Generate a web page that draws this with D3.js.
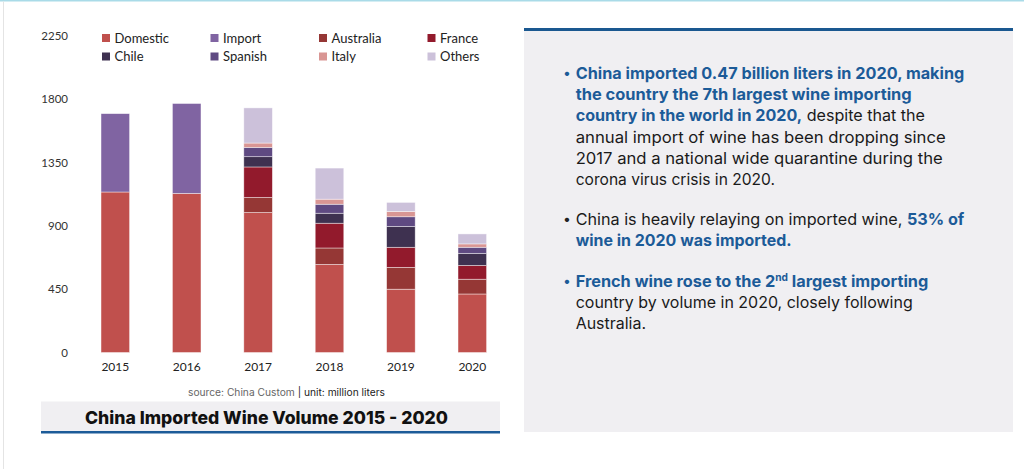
<!DOCTYPE html>
<html>
<head>
<meta charset="utf-8">
<script src="https://cdn.jsdelivr.net/npm/d3@7"></script>
<style>
  body { margin: 0; background: #fff; }
  svg { display: block; }
</style>
</head>
<body>
<script>
// Data (million liters)
const years = ['2015', '2016', '2017', '2018', '2019', '2020'];
const domestic = [1141, 1131, 995, 626, 450, 416];
const imported = [557, 639, 0, 0, 0, 0];
const australia = [0, 0, 107, 117, 155, 105];
const france = [0, 0, 217, 176, 143, 98];
const chile = [0, 0, 73, 71, 148, 86];
const spanish = [0, 0, 66, 64, 69, 43];
const italy = [0, 0, 31, 36, 38, 24];
const others = [0, 0, 250, 221, 64, 71];

const seriesNames = ['Domestic', 'Import', 'Australia', 'France', 'Chile', 'Spanish', 'Italy', 'Others'];
const seriesValues = [domestic, imported, australia, france, chile, spanish, italy, others];
const seriesColors = ['#c0504d', '#8064a2', '#953735', '#921a2c', '#3e3150', '#5f4a82', '#d99694', '#ccc1da'];
const yTicks = [0, 450, 900, 1350, 1800, 2250];

// Legend order (two rows of four)
const legendOrder = ['Domestic', 'Import', 'Australia', 'France', 'Chile', 'Spanish', 'Italy', 'Others'];

const blue = '#1c5b98';

const width = 1024, height = 469;

const svg = d3.select('body').append('svg')
    .attr('width', width)
    .attr('height', height);

// page frame bits
svg.append('rect').attr('x', 0).attr('y', 0).attr('width', width).attr('height', 1.5).attr('fill', '#a9dbe8');
svg.append('rect').attr('x', 3).attr('y', 1.5).attr('width', 1).attr('height', height).attr('fill', '#e4e4e4');

// ---- chart ----
const rows = years.map((y, i) => {
  const r = { year: y };
  seriesNames.forEach((s, j) => { r[s] = seriesValues[j][i]; });
  return r;
});

const stacked = d3.stack().keys(seriesNames)(rows);

const x = d3.scaleBand()
    .domain(years)
    .range([79.6, 508])
    .paddingInner(0.6)
    .paddingOuter(0.3);

const y = d3.scaleLinear()
    .domain([0, 2250])
    .range([352.5, 36]);

const color = d3.scaleOrdinal().domain(seriesNames).range(seriesColors);

const chart = svg.append('g');

chart.selectAll('g.series')
  .data(stacked)
  .enter().append('g')
    .attr('class', 'series')
    .attr('fill', d => color(d.key))
  .selectAll('rect')
  .data(d => d.filter(p => p[1] - p[0] > 0))
  .enter().append('rect')
    .attr('x', d => x(d.data.year))
    .attr('width', x.bandwidth())
    .attr('y', d => y(d[1]))
    .attr('height', d => y(d[0]) - y(d[1]))
    .attr('stroke', '#fff')
    .attr('stroke-width', 0.7)
    .attr('stroke-opacity', 0.6);

// y axis labels (no line)
const yAxis = chart.append('g')
    .attr('transform', 'translate(68,0)')
    .call(d3.axisLeft(y).tickValues(yTicks).tickFormat(d3.format('d')).tickSize(0).tickPadding(0));
yAxis.select('.domain').remove();
yAxis.selectAll('text')
    .attr('font-family', 'Lato, "Open Sans", sans-serif')
    .attr('font-size', 11.5)
    .attr('fill', '#333');

// x axis labels
const xAxis = chart.append('g')
    .attr('transform', 'translate(0,362)')
    .call(d3.axisBottom(x).tickSize(0).tickPadding(0));
xAxis.select('.domain').remove();
xAxis.selectAll('text')
    .attr('font-family', 'Lato, "Open Sans", sans-serif')
    .attr('font-size', 12)
    .attr('fill', '#222');

// legend
const legend = svg.append('g')
    .attr('font-family', 'Lato, "Open Sans", sans-serif')
    .attr('font-size', 13)
    .attr('fill', '#222');
const li = legend.selectAll('g')
  .data(legendOrder)
  .enter().append('g')
    .attr('transform', (d, i) => `translate(${102 + (i % 4) * 108.5},${i < 4 ? 34 : 52.5})`);
li.append('rect')
    .attr('width', 8).attr('height', 8)
    .attr('fill', d => color(d));
li.append('text')
    .attr('x', 12.5).attr('y', 8.5)
    .text(d => d);

// source line
const src = svg.append('text')
    .attr('x', 286.5).attr('y', 395.5)
    .attr('text-anchor', 'middle')
    .attr('font-family', 'Inter, "Open Sans", sans-serif')
    .attr('font-size', 10)
    .attr('textLength', 197)
    .attr('lengthAdjust', 'spacingAndGlyphs');
src.append('tspan').attr('fill', '#666').text('source: China Custom ');
src.append('tspan').attr('fill', '#222').text('| unit: million liters');

// title bar
svg.append('rect').attr('x', 41).attr('y', 401.5).attr('width', 459).attr('height', 30).attr('fill', '#f0eff2');
svg.append('rect').attr('x', 41).attr('y', 431).attr('width', 459).attr('height', 2.5).attr('fill', blue);
svg.append('text')
    .attr('x', 266.5).attr('y', 423.5)
    .attr('text-anchor', 'middle')
    .attr('font-family', 'Inter, "Open Sans", sans-serif')
    .attr('font-weight', 800)
    .attr('font-size', 17.5)
    .attr('fill', '#111')
    .attr('textLength', 363)
    .attr('lengthAdjust', 'spacingAndGlyphs')
    .text('China Imported Wine Volume 2015 - 2020');

// ---- right text panel ----
svg.append('rect').attr('x', 524).attr('y', 28).attr('width', 489).attr('height', 404).attr('fill', '#f0eff2');
svg.append('rect').attr('x', 524).attr('y', 28).attr('width', 489).attr('height', 3).attr('fill', '#1a5890');

// each line: [baseline y, target width, parts]; part = [text, bold, sup]
const lines = [
  [79, 388.6, [['China imported 0.47 billion liters in 2020, making', true]]],
  [100.2, 336, [['the country the 7th largest wine importing', true]]],
  [121.4, 349.3, [['country in the world in 2020,', true], [' despite that the', false]]],
  [142.6, 370, [['annual import of wine has been dropping since', false]]],
  [163.8, 367, [['2017 and a national wide quarantine during the', false]]],
  [184.5, 199.3, [['corona virus crisis in 2020.', false]]],
  [225, 388.6, [['China is heavily relaying on imported wine, ', false], ['53% of', true]]],
  [246, 216, [['wine in 2020 was imported.', true]]],
  [287, 352.6, [['French wine rose to the 2', true], ['nd', true, true], [' largest importing', true]]],
  [308, 337, [['country by volume in 2020, closely following', false]]],
  [329, 70.3, [['Australia.', false]]]
];
const bullets = [[79, blue], [225, '#222'], [287, blue]];

const panel = svg.append('g')
    .attr('font-family', 'Inter, "Open Sans", sans-serif')
    .attr('font-size', 16);

panel.selectAll('text.bullet')
  .data(bullets)
  .enter().append('text')
    .attr('class', 'bullet')
    .attr('x', 563).attr('y', d => d[0] - 1)
    .attr('fill', d => d[1])
    .attr('font-size', 14)
    .text('•');

lines.forEach(([ly, w, parts]) => {
  const t = panel.append('text')
      .attr('x', 575.7).attr('y', ly)
      .attr('textLength', w)
      .attr('lengthAdjust', 'spacingAndGlyphs');
  parts.forEach(([txt, bold, sup]) => {
    const s = t.append('tspan')
        .attr('fill', bold ? blue : '#1a1a1a')
        .attr('font-weight', bold ? 700 : 400)
        .text(txt);
    if (sup) s.attr('font-size', 10).attr('dy', -6);
    else if (parts.some(p => p[2]) && txt.startsWith(' ')) s.attr('dy', 6);
  });
});
</script>
</body>
</html>
